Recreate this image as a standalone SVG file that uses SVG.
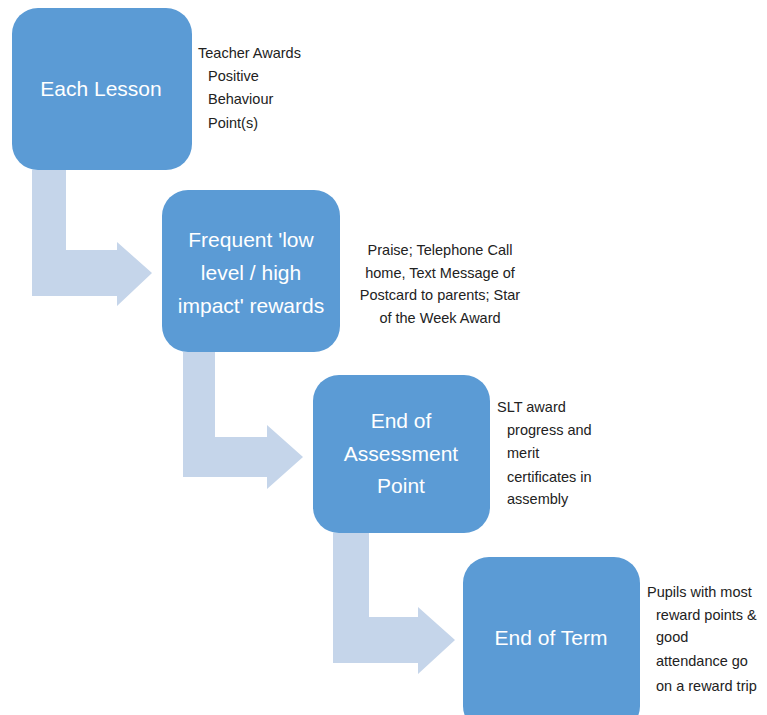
<svg xmlns="http://www.w3.org/2000/svg" width="767" height="715" viewBox="0 0 767 715">
<style>
.box{fill:#5B9BD5;}
.arr{fill:#C5D5EA;}
.bt{font-family:"Liberation Sans",Arial,sans-serif;font-size:21px;fill:#ffffff;text-anchor:middle;dominant-baseline:central;}
.st{font-family:"Liberation Sans",Arial,sans-serif;font-size:14.5px;fill:#222222;dominant-baseline:central;}
.stc{text-anchor:middle;}
</style>
<rect width="767" height="715" fill="#ffffff"/>
<g id="connectors">
<path class="arr" d="M32,170 H66 V250 H117 V242 L152,273 L117,306 V296 H32 Z"/>
<path class="arr" d="M183,352 H215 V437 H267 V425 L303,457 L267,489 V477 H183 Z"/>
<path class="arr" d="M333,533 H369 V617 H418 V607 L455,640 L418,674 V663 H333 Z"/>
</g>
<g id="node-each-lesson">
<rect class="box" x="12" y="8" width="180" height="162" rx="26"/>
<text class="bt" x="101" y="88">Each Lesson</text>
</g>
<g id="note-each-lesson">
<text class="st" x="198" y="53">Teacher Awards</text>
<text class="st" x="208" y="76">Positive</text>
<text class="st" x="208" y="99">Behaviour</text>
<text class="st" x="208" y="123">Point(s)</text>
</g>
<g id="node-frequent">
<rect class="box" x="162" y="190" width="178" height="162" rx="26"/>
<text class="bt" x="251" y="239">Frequent 'low</text>
<text class="bt" x="251" y="272">level / high</text>
<text class="bt" x="251" y="305">impact' rewards</text>
</g>
<g id="note-frequent">
<text class="st stc" x="440" y="250">Praise; Telephone Call</text>
<text class="st stc" x="440" y="273">home, Text Message of</text>
<text class="st stc" x="440" y="295">Postcard to parents; Star</text>
<text class="st stc" x="440" y="318">of the Week Award</text>
</g>
<g id="node-assessment">
<rect class="box" x="313" y="375" width="177" height="158" rx="26"/>
<text class="bt" x="401" y="420">End of</text>
<text class="bt" x="401" y="453">Assessment</text>
<text class="bt" x="401" y="485">Point</text>
</g>
<g id="note-assessment">
<text class="st" x="497" y="407">SLT award</text>
<text class="st" x="507" y="430">progress and</text>
<text class="st" x="507" y="453">merit</text>
<text class="st" x="507" y="477">certificates in</text>
<text class="st" x="507" y="499">assembly</text>
</g>
<g id="node-term">
<rect class="box" x="463" y="557" width="177" height="175" rx="26"/>
<text class="bt" x="551" y="637">End of Term</text>
</g>
<g id="note-term">
<text class="st" x="647" y="592">Pupils with most</text>
<text class="st" x="656" y="615">reward points &amp;</text>
<text class="st" x="656" y="637">good</text>
<text class="st" x="656" y="661">attendance go</text>
<text class="st" x="656" y="686">on a reward trip</text>
</g>
</svg>
